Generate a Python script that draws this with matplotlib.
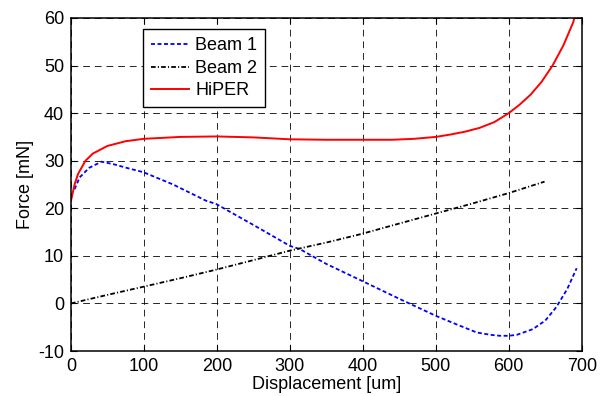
import matplotlib
matplotlib.use("Agg")
import matplotlib.pyplot as plt

plt.rcParams['font.family'] = ['Liberation Sans', 'DejaVu Sans']
plt.rcParams['axes.unicode_minus'] = False

# HiPER
hiper_x = [0, 5, 10, 20, 30, 50, 75, 100, 150, 200, 250, 300, 350, 400, 440, 470, 500, 520, 540, 560, 580, 600, 615, 630, 645, 660, 675, 688, 692]
hiper_y = [21.5, 25, 27.3, 30, 31.5, 33.1, 34.1, 34.6, 35.0, 35.1, 34.9, 34.5, 34.4, 34.4, 34.4, 34.6, 35.0, 35.5, 36.1, 36.9, 38.1, 40.0, 41.8, 43.9, 46.6, 50.0, 54.3, 59.0, 61]

# Beam 1
beam1_x = [5, 12, 25, 42, 60, 81, 99, 140, 185, 199, 250, 300, 314, 350, 398, 451, 500, 530, 556, 575, 588, 600, 611, 633, 650, 665, 680, 693]
beam1_y = [24.0, 26.5, 28.5, 29.8, 29.2, 28.3, 27.6, 25.0, 21.6, 20.9, 16.5, 12.1, 11.4, 8.3, 4.8, 0.9, -2.6, -4.5, -6.1, -6.6, -6.8, -6.8, -6.6, -5.4, -3.6, -0.8, 3.0, 7.4]

# Beam 2
beam2_x = [0, 50, 99, 150, 199, 250, 300, 350, 398, 450, 500, 550, 600, 649]
beam2_y = [0, 1.8, 3.5, 5.3, 7.1, 9.1, 11.1, 12.8, 14.6, 16.8, 18.9, 21.0, 23.2, 25.6]

fig = plt.figure(figsize=(6.01, 3.96), dpi=100)
ax = fig.add_axes([0.118, 0.1136, 0.85, 0.841])

ax.plot(beam1_x, beam1_y, color='blue', linestyle=(0, (2.2, 1.4)), linewidth=1.3, label='Beam 1')
ax.plot(beam2_x, beam2_y, color='black', linestyle=(0, (2.6, 1.2, 0.6, 1.2)), linewidth=1.3, label='Beam 2')
ax.plot(hiper_x, hiper_y, color='red', linestyle='-', linewidth=1.4, label='HiPER')

ax.set_xlim(0, 700)
ax.set_ylim(-10, 60)
ax.set_xticks(range(0, 701, 100))
ax.set_yticks(range(-10, 61, 10))
ax.grid(True, color='black', linestyle=(0, (7, 5)), linewidth=0.7, alpha=0.85)
ax.tick_params(direction='in', top=True, right=True, labelsize=13, length=4, pad=5)
for s in ax.spines.values():
    s.set_linewidth(1.1)

ax.set_xlabel('Displacement [um]', fontsize=13, labelpad=1)
ax.set_ylabel('Force [mN]', fontsize=13, labelpad=3)

leg = ax.legend(loc='upper left', bbox_to_anchor=(0.141, 0.966), fontsize=13,
                fancybox=False, framealpha=1, edgecolor='black', borderaxespad=0,
                handlelength=2.1, labelspacing=0.3, borderpad=0.45, handletextpad=0.35)
leg.get_frame().set_linewidth(1.0)

fig.savefig('out.png', dpi=100)
